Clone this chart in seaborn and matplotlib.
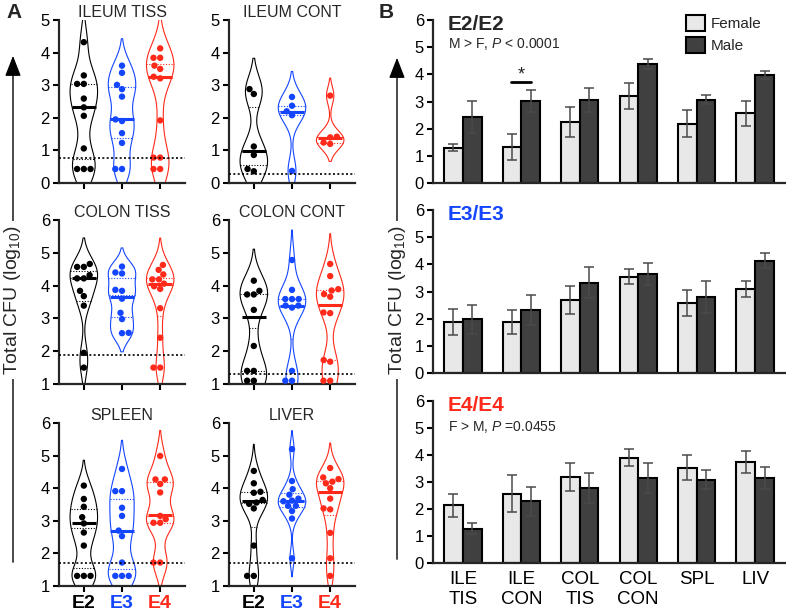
import numpy as np
import pandas as pd
import matplotlib
matplotlib.use('Agg')
import matplotlib.pyplot as plt
import seaborn as sns
from matplotlib.patches import FancyArrowPatch

# genotype groups
genotypes = ['E2', 'E3', 'E4']
geno_colors = ['#000000', '#1446ff', '#ff2a1a']

# panel A: log10 CFU per mouse
ileum_tiss_e2 = [4.32, 3.30, 3.04, 3.04, 2.59, 2.32, 2.06, 1.06, 0.43, 0.43, 0.43]
ileum_tiss_e3 = [3.60, 3.38, 3.01, 2.88, 2.65, 1.95, 1.90, 1.53, 1.23, 0.43, 0.43]
ileum_tiss_e4 = [4.13, 3.84, 3.84, 3.60, 3.50, 3.26, 3.21, 1.92, 0.78, 0.78, 0.43, 0.43]
ileum_cont_e2 = [2.88, 2.73, 1.12, 0.86, 0.43, 0.36]
ileum_cont_e3 = [2.64, 2.37, 2.20, 2.08, 0.37]
ileum_cont_e4 = [2.68, 1.42, 1.40, 1.24, 1.20]
colon_tiss_e2 = [4.66, 4.57, 4.57, 4.32, 4.22, 4.22, 3.84, 3.68, 3.39, 1.95, 1.50]
colon_tiss_e3 = [4.58, 4.40, 4.37, 3.87, 3.84, 3.60, 3.17, 2.98, 2.56, 2.55]
colon_tiss_e4 = [4.63, 4.48, 4.34, 4.19, 4.19, 4.06, 3.98, 3.90, 3.31, 2.41, 1.50, 1.50]
colon_cont_e2 = [4.15, 3.84, 3.73, 3.73, 3.26, 2.16, 1.40, 1.40, 1.10, 1.10]
colon_cont_e3 = [4.78, 3.87, 3.59, 3.59, 3.59, 3.39, 3.39, 3.33, 1.40, 1.10, 1.10]
colon_cont_e4 = [4.66, 4.29, 3.89, 3.85, 3.74, 3.66, 3.18, 3.16, 1.73, 1.68, 1.10, 1.10]
spleen_e2 = [4.08, 3.67, 3.43, 3.11, 2.92, 2.64, 2.24, 1.31, 1.31, 1.31]
spleen_e3 = [4.59, 3.91, 3.91, 3.40, 3.15, 2.70, 2.53, 1.72, 1.31, 1.31, 1.31]
spleen_e4 = [4.99, 4.27, 4.27, 4.13, 3.87, 3.15, 3.05, 2.94, 2.94, 1.72, 1.72]
liver_e2 = [4.53, 4.15, 3.89, 3.86, 3.64, 3.56, 3.52, 3.38, 2.24, 1.31, 1.31]
liver_e3 = [5.20, 4.22, 3.97, 3.80, 3.68, 3.62, 3.60, 3.46, 3.46, 3.30, 3.07, 1.85]
liver_e4 = [4.62, 4.33, 4.28, 4.20, 4.15, 4.00, 3.68, 3.38, 3.35, 2.63, 1.85, 1.31]

# median lines as drawn in the figure
ileum_tiss_med = [2.33, 1.96, 3.26]
ileum_cont_med = [0.99, 2.19, 1.39]
colon_tiss_med = [4.22, 3.64, 4.04]
colon_cont_med = [3.05, 3.39, 3.41]
spleen_med = [2.92, 2.70, 3.18]
liver_med = [3.61, 3.60, 3.87]

# limits of detection (dotted lines)
lods = [0.77, 0.29, 1.88, 1.30, 1.70, 1.70]
titles_a = ['ILEUM TISS', 'ILEUM CONT', 'COLON TISS', 'COLON CONT', 'SPLEEN', 'LIVER']

# panel B: mean +/- sem by sex
organ_labels = ['ILE\nTIS', 'ILE\nCON', 'COL\nTIS', 'COL\nCON', 'SPL', 'LIV']
e2_female = [1.29, 1.33, 2.25, 3.20, 2.19, 2.56]
e2_female_err = [0.13, 0.48, 0.55, 0.48, 0.49, 0.47]
e2_male = [2.43, 3.01, 3.05, 4.37, 3.07, 3.97]
e2_male_err = [0.59, 0.40, 0.44, 0.18, 0.17, 0.16]
e3_female = [1.88, 1.88, 2.70, 3.54, 2.56, 3.09]
e3_female_err = [0.47, 0.44, 0.51, 0.27, 0.48, 0.28]
e3_male = [1.97, 2.31, 3.33, 3.64, 2.80, 4.13]
e3_male_err = [0.55, 0.55, 0.57, 0.40, 0.60, 0.27]
e4_female = [2.14, 2.57, 3.19, 3.90, 3.53, 3.74]
e4_female_err = [0.42, 0.68, 0.52, 0.32, 0.47, 0.42]
e4_male = [1.27, 2.28, 2.79, 3.15, 3.09, 3.15]
e4_male_err = [0.21, 0.55, 0.55, 0.56, 0.34, 0.42]
sex_colors = ['#e8e8e8', '#404040']

sns.set_style('ticks')
plt.rcParams['font.family'] = ['Liberation Sans', 'DejaVu Sans']
plt.rcParams['mathtext.fontset'] = 'custom'
plt.rcParams['mathtext.rm'] = 'Liberation Sans'
plt.rcParams['mathtext.it'] = 'Liberation Sans:italic'
plt.rcParams['mathtext.bf'] = 'Liberation Sans:bold'

W, H = 786, 616
fig = plt.figure(figsize=(W / 100, H / 100), dpi=100)


def px_axes(x0, y0, x1, y1):
    return fig.add_axes([x0 / W, 1 - y1 / H, (x1 - x0) / W, (y1 - y0) / H])


def style_axes(ax):
    for s in ['top', 'right']:
        ax.spines[s].set_visible(False)
    for s in ['left', 'bottom']:
        ax.spines[s].set_linewidth(1.6)
    ax.tick_params(width=1.5, length=4.5, labelsize=12, pad=2, colors='black')
    ax.set_xlabel('')
    ax.set_ylabel('')


def violin_panel(ax, title, groups, medians, lod, ylim, bottom_row):
    df = pd.DataFrame({'geno': np.repeat(genotypes, [len(g) for g in groups]),
                       'cfu': np.concatenate(groups)})
    sns.violinplot(data=df, x='geno', y='cfu', hue='geno', order=genotypes, hue_order=genotypes,
                   palette=geno_colors, fill=False, inner='quart', linewidth=0.8,
                   density_norm='width', width=0.72, bw_adjust=0.6, cut=2,
                   inner_kws=dict(dashes=(1, 1.5), linewidth=0.8), legend=False, ax=ax)
    sns.swarmplot(data=df, x='geno', y='cfu', hue='geno', order=genotypes, hue_order=genotypes,
                  palette=geno_colors, size=4.6, legend=False, ax=ax)
    med = pd.DataFrame({'geno': genotypes, 'cfu': medians})
    sns.pointplot(data=med, x='geno', y='cfu', hue='geno', order=genotypes, hue_order=genotypes,
                  palette=geno_colors, markers='_', markersize=17, markeredgewidth=2.2,
                  linestyle='none', errorbar=None, legend=False, ax=ax)
    ax.axhline(lod, color='black', linestyle=(0, (1.2, 1.4)), linewidth=1.2, zorder=5)
    ax.set_xlim(-0.65, 2.65)
    ax.set_ylim(*ylim)
    ax.set_yticks(range(int(ylim[0]), int(ylim[1]) + 1))
    ax.set_title(title, fontsize=11.5, pad=1)
    style_axes(ax)
    if bottom_row:
        ax.set_xticks(range(3))
        ax.set_xticklabels(genotypes, fontsize=14, fontweight='bold')
        for lab, c in zip(ax.get_xticklabels(), geno_colors):
            lab.set_color(c)
    else:
        ax.set_xticks(range(3))
        ax.set_xticklabels([])


# panel A layout (pixel boxes)
cols = [(59, 185), (229, 355)]
rows = [(20, 183, (0, 5)), (220, 384, (1, 6)), (423, 586, (1, 6))]
violin_data = [
    [ileum_tiss_e2, ileum_tiss_e3, ileum_tiss_e4],
    [ileum_cont_e2, ileum_cont_e3, ileum_cont_e4],
    [colon_tiss_e2, colon_tiss_e3, colon_tiss_e4],
    [colon_cont_e2, colon_cont_e3, colon_cont_e4],
    [spleen_e2, spleen_e3, spleen_e4],
    [liver_e2, liver_e3, liver_e4],
]
violin_meds = [ileum_tiss_med, ileum_cont_med, colon_tiss_med, colon_cont_med, spleen_med, liver_med]

for k in range(6):
    r, c = divmod(k, 2)
    y0, y1, ylim = rows[r]
    ax = px_axes(cols[c][0], y0, cols[c][1], y1)
    violin_panel(ax, titles_a[k], violin_data[k], violin_meds[k], lods[k], ylim, r == 2)


def bar_panel(ax, female, female_err, male, male_err):
    df = pd.DataFrame({'organ': organ_labels * 2,
                       'sex': ['Female'] * 6 + ['Male'] * 6,
                       'cfu': female + male})
    sns.barplot(data=df, x='organ', y='cfu', hue='sex', order=organ_labels,
                hue_order=['Female', 'Male'], palette=sex_colors, edgecolor='black',
                linewidth=1.5, width=0.64, errorbar=None, ax=ax)
    errs = {'Female': female_err, 'Male': male_err}
    for bar in ax.patches:
        if bar.get_width() == 0 or bar.get_height() == 0:
            continue
        cx = bar.get_x() + bar.get_width() / 2
        i = int(round(cx))
        sex = 'Female' if cx < i else 'Male'
        ax.errorbar(cx, bar.get_height(), yerr=errs[sex][i], fmt='none', ecolor='#4a4a4a',
                    elinewidth=1.1, capsize=3.6, capthick=1.1, zorder=4)
    ax.set_xlim(-0.51, 5.51)
    ax.set_ylim(0, 6)
    ax.set_yticks(range(7))
    style_axes(ax)
    ax.tick_params(axis='x', length=0, labelsize=13.5, pad=6)


bx0, bx1 = 433, 785
ax1 = px_axes(bx0, 20, bx1, 183)
bar_panel(ax1, e2_female, e2_female_err, e2_male, e2_male_err)
ax1.set_xticklabels([])
ax1.legend(loc='upper left', bbox_to_anchor=(0.70, 1.07), frameon=False, fontsize=11,
           handlelength=1.25, handleheight=1.3, handletextpad=0.4, labelspacing=0.35, borderaxespad=0)
ax1.text(0.042, 0.97, 'E2/E2', transform=ax1.transAxes, fontsize=15, fontweight='bold',
         ha='left', va='center')
ax1.text(0.042, 0.855, 'M > F, $P$ < 0.0001', transform=ax1.transAxes, fontsize=10,
         ha='left', va='center')
# significance mark over ILE CON
ax1.plot([0.83, 1.17], [3.73, 3.73], color='black', linewidth=2)
ax1.text(1.0, 3.82, '*', ha='center', va='baseline', fontsize=13)

ax2 = px_axes(bx0, 210, bx1, 373)
bar_panel(ax2, e3_female, e3_female_err, e3_male, e3_male_err)
ax2.set_xticklabels([])
ax2.get_legend().remove()
ax2.text(0.042, 0.97, 'E3/E3', transform=ax2.transAxes, fontsize=15, fontweight='bold',
         color=geno_colors[1], ha='left', va='center')

ax3 = px_axes(bx0, 401, bx1, 563)
bar_panel(ax3, e4_female, e4_female_err, e4_male, e4_male_err)
ax3.get_legend().remove()
ax3.set_xticklabels(organ_labels, linespacing=1.2)
ax3.text(0.042, 0.975, 'E4/E4', transform=ax3.transAxes, fontsize=15, fontweight='bold',
         color=geno_colors[2], ha='left', va='center')
ax3.text(0.042, 0.84, 'F > M, $P$ =0.0455', transform=ax3.transAxes, fontsize=10,
         ha='left', va='center')

# shared y labels with arrows
for xp, ytop, ybot in [(13, 53, 565), (397, 55, 562)]:
    arr = FancyArrowPatch((xp / W, 1 - ybot / H), (xp / W, 1 - ytop / H), transform=fig.transFigure,
                          arrowstyle='-|>,head_length=0.9,head_width=0.35', mutation_scale=14,
                          linewidth=1, color='black')
    fig.add_artist(arr)
    fig.text(xp / W, 1 - 300 / H, 'Total CFU (log$_{10}$)', rotation=90, ha='center', va='center',
             fontsize=14, bbox=dict(facecolor='white', edgecolor='none', pad=3))

fig.text(14 / W, 1 - 12 / H, 'A', fontsize=15, fontweight='bold', ha='center', va='center')
fig.text(386 / W, 1 - 12 / H, 'B', fontsize=15, fontweight='bold', ha='center', va='center')

fig.savefig('out.png', dpi=100)
